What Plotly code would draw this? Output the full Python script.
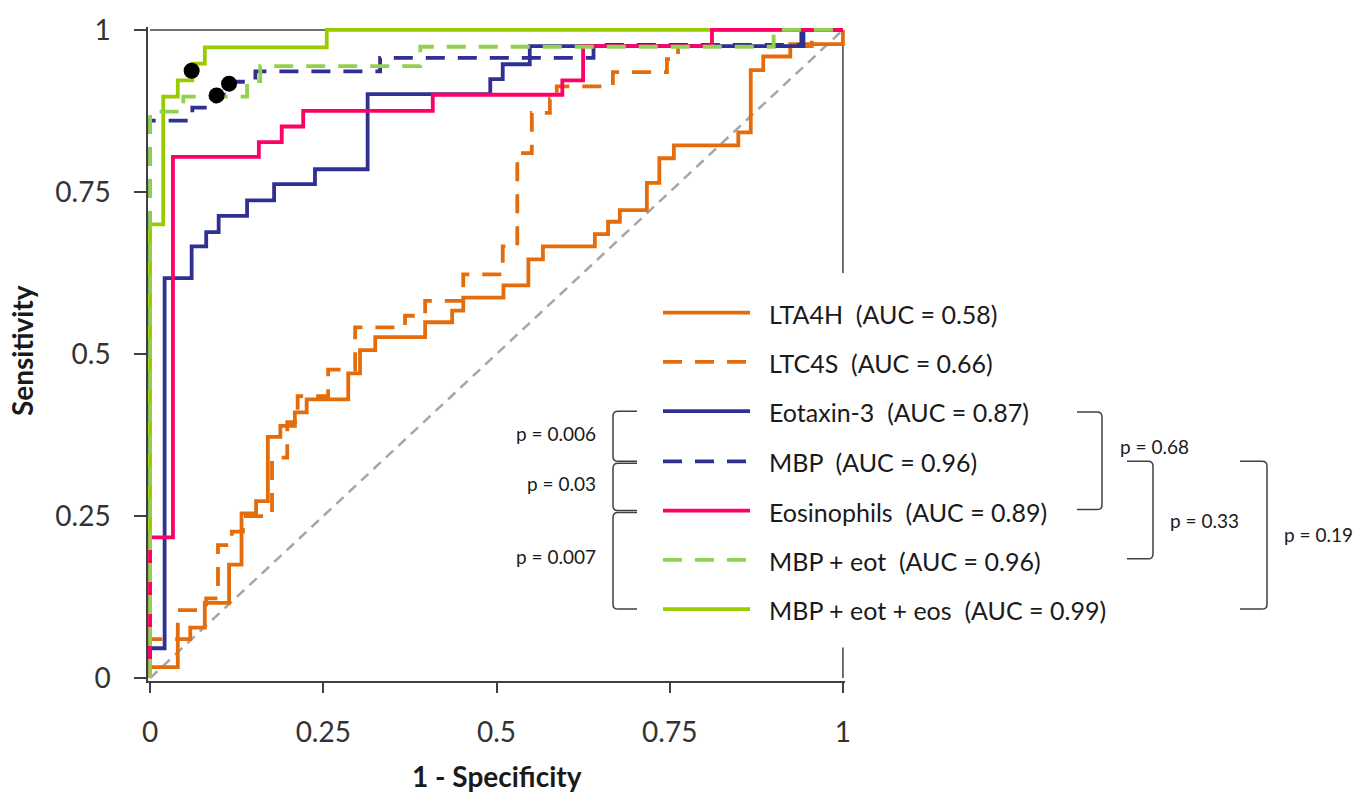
import plotly.graph_objects as go

# ---------------- data ----------------
diag_x = [0, 1]
diag_y = [0, 1]

lta4h_fpr = [0, 0, 0.04, 0.058, 0.079, 0.114, 0.132, 0.153, 0.17, 0.188, 0.209, 0.226, 0.286, 0.303, 0.325,
             0.397, 0.436, 0.452, 0.51, 0.546, 0.567, 0.642, 0.661, 0.678, 0.717, 0.735, 0.756, 0.849, 0.867,
             0.885, 0.924, 1.0]
lta4h_tpr = [0, 0.017, 0.06, 0.078, 0.116, 0.175, 0.254, 0.273, 0.372, 0.389, 0.41, 0.43, 0.47, 0.506, 0.526,
             0.549, 0.567, 0.587, 0.606, 0.646, 0.666, 0.685, 0.704, 0.722, 0.764, 0.802, 0.822, 0.842, 0.938,
             0.959, 0.978, 1.0]

ltc4s_fpr = [0, 0, 0.04, 0.081, 0.098, 0.118, 0.134, 0.176, 0.198, 0.213, 0.257, 0.296, 0.368, 0.397, 0.452,
             0.509, 0.53, 0.551, 0.577, 0.587, 0.668, 0.746, 0.762, 0.955, 1.0]
ltc4s_tpr = [0, 0.06, 0.105, 0.123, 0.205, 0.226, 0.25, 0.34, 0.395, 0.435, 0.476, 0.541, 0.559, 0.582, 0.623,
             0.666, 0.81, 0.872, 0.893, 0.913, 0.935, 0.955, 0.975, 1.0, 1.0]

eot_fpr = [0, 0, 0.021, 0.06, 0.081, 0.099, 0.14, 0.179, 0.238, 0.314, 0.491, 0.509, 0.548, 0.943, 1.0]
eot_tpr = [0, 0.046, 0.617, 0.666, 0.688, 0.713, 0.737, 0.762, 0.785, 0.901, 0.924, 0.947, 0.975, 1.0, 1.0]

mbp_fpr = [0, 0, 0.061, 0.094, 0.115, 0.152, 0.332, 0.64, 0.94, 1.0]
mbp_tpr = [0, 0.86, 0.88, 0.90, 0.92, 0.936, 0.957, 0.977, 1.0, 1.0]

eos_fpr = [0, 0, 0.033, 0.157, 0.19, 0.221, 0.408, 0.595, 0.625, 0.811, 1.0]
eos_tpr = [0, 0.217, 0.804, 0.827, 0.851, 0.875, 0.9, 0.922, 0.975, 1.0, 1.0]

mbp_eot_fpr = [0, 0, 0.048, 0.14, 0.159, 0.39, 0.90, 1.0]
mbp_eot_tpr = [0, 0.874, 0.897, 0.921, 0.944, 0.974, 1.0, 1.0]

mbp_eot_eos_fpr = [0, 0, 0.019, 0.04, 0.061, 0.079, 0.255, 1.0]
mbp_eot_eos_tpr = [0, 0.70, 0.897, 0.922, 0.948, 0.973, 1.0, 1.0]

cutoff_x = [0.06, 0.096, 0.114]
cutoff_y = [0.937, 0.899, 0.917]

names = ["LTA4H", "LTC4S", "Eotaxin-3", "MBP", "Eosinophils", "MBP + eot", "MBP + eot + eos"]
aucs = [0.58, 0.66, 0.87, 0.96, 0.89, 0.96, 0.99]

p_left_labels = ["p = 0.006", "p = 0.03", "p = 0.007"]
p_right_labels = ["p = 0.68", "p = 0.33", "p = 0.19"]

x_ticks = [0, 0.25, 0.5, 0.75, 1]
x_ticktext = ["0", "0.25", "0.5", "0.75", "1"]
y_ticks = [0, 0.25, 0.5, 0.75, 1]
y_ticktext = ["0", "0.25", "0.5", "0.75", "1"]

# ---------------- styles ----------------
ORANGE = "#E46C0A"
NAVY = "#2E3192"
PINK = "#FF0066"
LGREEN = "#92D050"
GREEN = "#99CC00"
DASH = "19px,13px"
LW = 3.8
FONT = "Lato, 'Open Sans', sans-serif"
AXC = "#404040"

series = [
    (lta4h_fpr, lta4h_tpr, ORANGE, "solid"),
    (ltc4s_fpr, ltc4s_tpr, ORANGE, DASH),
    (eot_fpr, eot_tpr, NAVY, "solid"),
    (mbp_fpr, mbp_tpr, NAVY, DASH),
    (eos_fpr, eos_tpr, PINK, "solid"),
    (mbp_eot_fpr, mbp_eot_tpr, LGREEN, DASH),
    (mbp_eot_eos_fpr, mbp_eot_eos_tpr, GREEN, "solid"),
]

W, H = 1368, 801
PL, PR, PT, PB = 148, 845, 17, 681   # plot area in pixels
XR = [-0.003, 1.003]
YR = [-0.0045, 1.0045]


def px(x):
    return (x - PL) / (PR - PL)


def py(y):
    return (PB - y) / (PB - PT)


fig = go.Figure()

fig.add_trace(go.Scatter(x=diag_x, y=diag_y, mode="lines",
                         line=dict(color="#A6A6A6", width=2.5, dash="10px,7px"),
                         showlegend=False, hoverinfo="skip"))

# draw order: solid bright green first so others sit on top
order = [6, 0, 1, 2, 3, 4, 5]
for i in order:
    fx, ty, col, dsh = series[i]
    fig.add_trace(go.Scatter(x=fx, y=ty, mode="lines", line_shape="hv",
                             line=dict(color=col, width=LW, dash=dsh),
                             name=names[i], showlegend=False))

fig.add_trace(go.Scatter(x=cutoff_x, y=cutoff_y, mode="markers",
                         marker=dict(color="black", size=16), showlegend=False, cliponaxis=False))

shapes = []
# top and right frame lines
shapes.append(dict(type="line", xref="x", yref="y", x0=0, x1=1, y0=1, y1=1,
                   line=dict(color=AXC, width=1.5), layer="below"))
shapes.append(dict(type="line", xref="x", yref="y", x0=1, x1=1, y0=0, y1=0.047,
                   line=dict(color=AXC, width=1.5), layer="below"))
shapes.append(dict(type="line", xref="x", yref="y", x0=1, x1=1, y0=0.625, y1=1,
                   line=dict(color=AXC, width=1.5), layer="below"))

annotations = []
# custom legend
leg_y = [307, 357, 407, 458, 508, 558, 608]
for i in range(7):
    col, dsh = series[i][2], series[i][3]
    shapes.append(dict(type="line", xref="paper", yref="paper",
                       x0=px(663), x1=px(750), y0=py(leg_y[i]), y1=py(leg_y[i]),
                       line=dict(color=col, width=LW, dash=dsh)))
    annotations.append(dict(xref="paper", yref="paper", x=px(767), y=py(leg_y[i] + 1),
                            xanchor="left", yanchor="middle", showarrow=False,
                            text=f"{names[i]}\u00a0\u00a0(AUC = {aucs[i]:.2f})",
                            font=dict(family=FONT, size=25, color="#1a1a1a")))


def left_bracket(y1, y2, xv=613, xa=637, r=5):
    return (f"M {px(xa)},{py(y1)} L {px(xv + r)},{py(y1)} Q {px(xv)},{py(y1)} {px(xv)},{py(y1 + r)} "
            f"L {px(xv)},{py(y2 - r)} Q {px(xv)},{py(y2)} {px(xv + r)},{py(y2)} L {px(xa)},{py(y2)}")


def right_bracket(y1, y2, xa, xv, r=5):
    return (f"M {px(xa)},{py(y1)} L {px(xv - r)},{py(y1)} Q {px(xv)},{py(y1)} {px(xv)},{py(y1 + r)} "
            f"L {px(xv)},{py(y2 - r)} Q {px(xv)},{py(y2)} {px(xv - r)},{py(y2)} L {px(xa)},{py(y2)}")


BRC = "#404040"
for (a, b) in [(407, 458), (460, 508), (510, 608)]:
    shapes.append(dict(type="path", xref="paper", yref="paper", path=left_bracket(a, b),
                       line=dict(color=BRC, width=1.5)))
for (a, b, xa, xv) in [(408, 507, 1077, 1102), (458, 557, 1127, 1153), (458, 608, 1240, 1267)]:
    shapes.append(dict(type="path", xref="paper", yref="paper", path=right_bracket(a, b, xa, xv),
                       line=dict(color=BRC, width=1.5)))

pfont = dict(family=FONT, size=19, color="#1a1a1a")
for lab, yy in zip(p_left_labels, [430, 480, 555]):
    annotations.append(dict(xref="paper", yref="paper", x=px(598), y=py(yy), xanchor="right",
                            yanchor="middle", showarrow=False, text=lab, font=pfont))
for lab, xx, yy in zip(p_right_labels, [1118, 1168, 1282], [443, 518, 532]):
    annotations.append(dict(xref="paper", yref="paper", x=px(xx), y=py(yy), xanchor="left",
                            yanchor="middle", showarrow=False, text=lab, font=pfont))

# axis titles
annotations.append(dict(xref="paper", yref="paper", x=px(497), y=py(777), xanchor="center",
                        yanchor="middle", showarrow=False, text="<b>1 - Specificity</b>",
                        font=dict(family=FONT, size=28, color="#1a1a1a")))
annotations.append(dict(xref="paper", yref="paper", x=px(22), y=py(345), xanchor="center",
                        yanchor="middle", showarrow=False, text="<b>Sensitivity</b>", textangle=-90,
                        font=dict(family=FONT, size=28, color="#1a1a1a")))

fig.update_layout(
    width=W, height=H,
    margin=dict(l=PL, r=W - PR, t=PT, b=H - PB, pad=0),
    paper_bgcolor="white", plot_bgcolor="white",
    showlegend=False,
    shapes=shapes, annotations=annotations,
    xaxis=dict(range=XR, tickvals=x_ticks, ticktext=x_ticktext, showgrid=False, zeroline=False,
               showline=True, linecolor=AXC, linewidth=1.5, ticks="outside", ticklen=10,
               tickwidth=1.5, tickcolor=AXC, ticklabelstandoff=16,
               tickfont=dict(family=FONT, size=28, color="#333333")),
    yaxis=dict(range=YR, tickvals=y_ticks, ticktext=y_ticktext, showgrid=False, zeroline=False,
               showline=True, linecolor=AXC, linewidth=1.5, ticks="outside", ticklen=12,
               tickwidth=1.5, tickcolor=AXC, ticklabelstandoff=18,
               tickfont=dict(family=FONT, size=28, color="#333333")),
)

fig.write_html("out.html", config={"displayModeBar": False},
               post_script="document.body.style.margin='0';document.body.style.overflow='hidden';")
